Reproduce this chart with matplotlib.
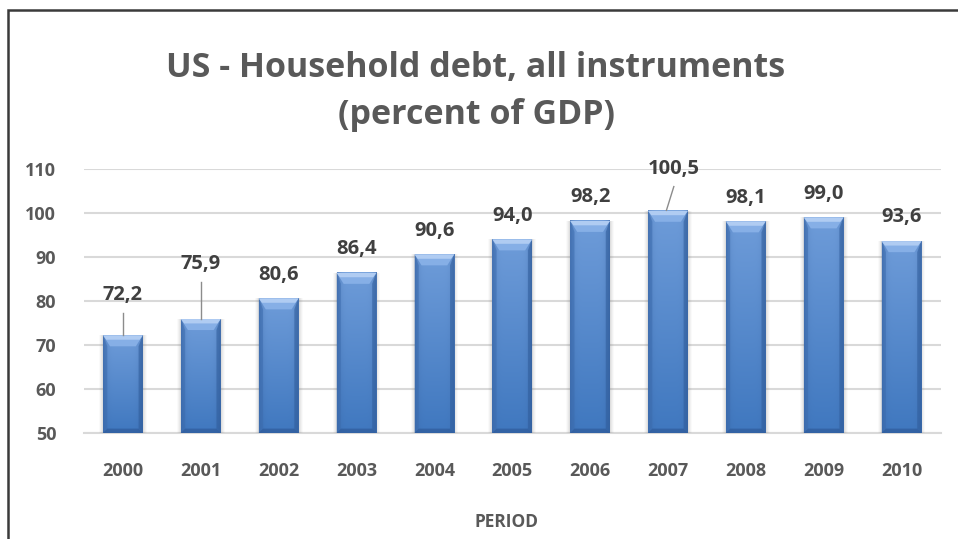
import matplotlib
matplotlib.use("Agg")
import matplotlib.pyplot as plt
import numpy as np
from matplotlib.patches import Rectangle, Polygon

# Household debt, all instruments (percent of GDP)
years = ["2000", "2001", "2002", "2003", "2004", "2005", "2006", "2007", "2008", "2009", "2010"]
debt = [72.2, 75.9, 80.6, 86.4, 90.6, 94.0, 98.2, 100.5, 98.1, 99.0, 93.6]
labels = ["72,2", "75,9", "80,6", "86,4", "90,6", "94,0", "98,2", "100,5", "98,1", "99,0", "93,6"]
yticks = [50, 60, 70, 80, 90, 100, 110]

plt.rcParams["font.family"] = ["Open Sans", "DejaVu Sans"]
TXT = "#595959"

W, H, DPI = 958, 539, 100
fig = plt.figure(figsize=(W / DPI, H / DPI), dpi=DPI)
fig.patch.set_facecolor("white")

# chart frame
fig.add_artist(Rectangle((8 / W, -0.05), 1.2, 1 - 10 / H + 0.05, transform=fig.transFigure,
                         fill=False, edgecolor="#3a3a3a", linewidth=1.8))

left, right = 84 / W, 940.5 / W
bottom, top = 1 - 433 / H, 1 - 169 / H
ax = fig.add_axes([left, bottom, right - left, top - bottom])

ymin, ymax = 50, 110
ax.set_ylim(ymin, ymax)
ax.set_xlim(-0.5, len(years) - 0.5)
x = np.arange(len(years))
bw = 0.51

bars = ax.bar(x, [v - ymin for v in debt], bottom=ymin, width=bw, color="#4a7fc4",
              edgecolor="none", zorder=3)

# pixel -> data scale factors for bevel decoration
px_x = (len(years)) / ((right - left) * W)
px_y = (ymax - ymin) / ((top - bottom) * H)

for b in bars:
    x0 = b.get_x()
    x1 = x0 + b.get_width()
    y0 = ymin
    y1 = y0 + b.get_height()
    # soft shadow
    for k, a in enumerate([0.10, 0.08, 0.06, 0.04]):
        d = k + 1
        ax.add_patch(Rectangle((x0 - d * px_x, y0 - d * px_y), (x1 - x0) + 2 * d * px_x,
                               (y1 - y0) + d * px_y, facecolor="#808080", alpha=a,
                               edgecolor="none", zorder=2))
    # body gradient (darker at edges, slightly lighter at top)
    nx, ny = 40, 60
    hx = np.linspace(-1, 1, nx)
    vy = np.linspace(0, 1, ny)[:, None]
    edge = np.clip(np.abs(hx) ** 6, 0, 1)[None, :]
    c_top = np.array([0.43, 0.61, 0.85])
    c_bot = np.array([0.25, 0.47, 0.75])
    base = c_bot[None, None, :] * (1 - vy[..., None]) + c_top[None, None, :] * vy[..., None]
    dark = np.array([0.22, 0.38, 0.62])
    img = base * (1 - 0.55 * edge[..., None]) + dark[None, None, :] * 0.55 * edge[..., None]
    ax.imshow(img, extent=(x0, x1, y0, y1), origin="lower", aspect="auto",
              interpolation="bilinear", zorder=3.5)
    # side bevels
    bx, by = 7 * px_x, 11 * px_y
    ax.add_patch(Polygon([(x0, y0), (x0 + bx * 0.6, y0 + by * 0.4), (x0 + bx * 0.6, y1 - by),
                          (x0, y1)], closed=True, facecolor="#3c6cae", alpha=0.55,
                         edgecolor="none", zorder=4))
    ax.add_patch(Polygon([(x1, y0), (x1 - bx * 0.6, y0 + by * 0.4), (x1 - bx * 0.6, y1 - by),
                          (x1, y1)], closed=True, facecolor="#2f5c9a", alpha=0.55,
                         edgecolor="none", zorder=4))
    # bottom bevel
    ax.add_patch(Polygon([(x0, y0), (x1, y0), (x1 - bx * 0.6, y0 + by * 0.4),
                          (x0 + bx * 0.6, y0 + by * 0.4)], closed=True,
                         facecolor="#2c5694", alpha=0.6, edgecolor="none", zorder=4))
    # top bevel face
    ax.add_patch(Polygon([(x0, y1), (x1, y1), (x1 - bx, y1 - by), (x0 + bx, y1 - by)],
                         closed=True, facecolor="#86afe6", edgecolor="none", zorder=4))
    ax.add_patch(Polygon([(x0, y1), (x1, y1), (x1 - bx * 0.45, y1 - by * 0.4),
                          (x0 + bx * 0.45, y1 - by * 0.4)],
                         closed=True, facecolor="#b0ccf2", edgecolor="none", zorder=4.1))

# value labels; a few sit higher with a leader line
offsets = {0: (0.0, 9.1), 1: (0.0, 12.4), 7: (0.07, 9.5)}
LBL = dict(ha="center", va="center", fontsize=14.5, fontweight="bold", color="#404040",
           zorder=6, clip_on=False)
for i, (v, lab) in enumerate(zip(debt, labels)):
    if i in offsets:
        dx, dy = offsets[i]
        ty = v + dy
        ax.text(i + dx, ty, lab, **LBL)
        if i == 7:
            ax.plot([i + dx + 0.005, i - 0.02], [ty - 4.0, v + 0.1], color="#8c8c8c",
                    linewidth=1.0, zorder=5, clip_on=False)
        else:
            ax.plot([i, i], [ty - 4.0, v], color="#8c8c8c", linewidth=1.0, zorder=5,
                    clip_on=False)
    else:
        ax.text(i, v + 5.4, lab, **LBL)

ax.set_yticks(yticks)
ax.set_xticks(x)
ax.set_xticklabels(years)
ax.tick_params(axis="both", length=0, labelsize=13, labelcolor=TXT)
for t in ax.get_xticklabels() + ax.get_yticklabels():
    t.set_fontweight("bold")
ax.tick_params(axis="y", pad=20)
ax.tick_params(axis="x", pad=21)

ax.grid(axis="y", color="#d9d9d9", linewidth=1.5, zorder=0)
ax.set_axisbelow(True)
for s in ["top", "right", "left"]:
    ax.spines[s].set_visible(False)
ax.spines["bottom"].set_color("#d9d9d9")
ax.spines["bottom"].set_linewidth(1.5)
ax.spines["bottom"].set_zorder(1)
ax.set_facecolor("none")

fig.text(476 / W, 1 - 68 / H, "US - Household debt, all instruments",
         ha="center", va="center", fontsize=24.5, fontweight="bold", color=TXT)
fig.text(476 / W, 1 - 115 / H, "(percent of GDP)",
         ha="center", va="center", fontsize=24.5, fontweight="bold", color=TXT)
fig.text(507 / W, 1 - 522 / H, "PERIOD", ha="center", va="center", fontsize=12.5,
         fontweight="bold", color=TXT)

fig.savefig("out.png", dpi=DPI, facecolor="white")
